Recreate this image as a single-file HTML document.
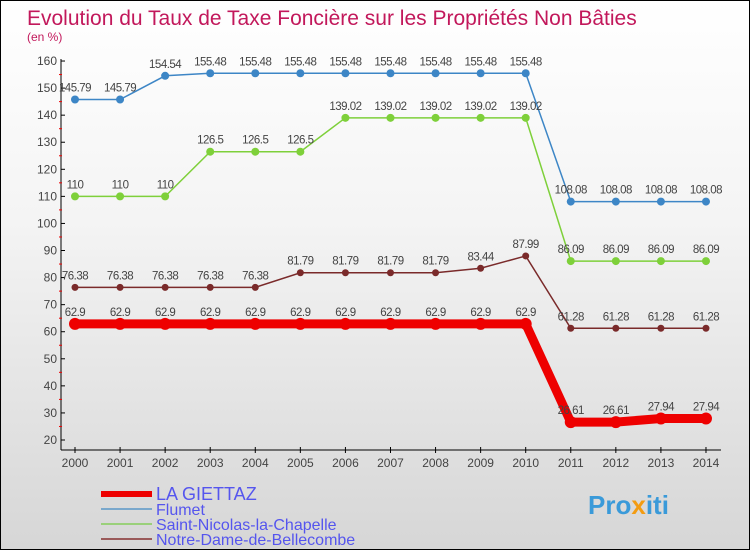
<!DOCTYPE html>
<html><head><meta charset="utf-8"><style>
body{margin:0}
#wrap{width:748px;height:548px;border:1px solid #000;position:relative;background:linear-gradient(#fff 0%,#f4f4f4 40%,#d6d6d6 100%);font-family:"Liberation Sans",sans-serif;overflow:hidden}
</style></head><body>
<div id="wrap">
<svg id="svg" width="748" height="548" xmlns="http://www.w3.org/2000/svg">
<text x="26" y="24" font-size="21" fill="#c2185b">Evolution du Taux de Taxe Foncière sur les Propriétés Non Bâties</text>
<text x="26" y="40" font-size="12" fill="#c2185b">(en %)</text>
<text x="587" y="513" font-size="26" font-weight="bold" fill="#3a9ad9">Pro<tspan fill="#f39c12">x</tspan>iti</text>
</svg>
</div>
<script>
const years=[2000,2001,2002,2003,2004,2005,2006,2007,2008,2009,2010,2011,2012,2013,2014];
const yTicks=[20,30,40,50,60,70,80,90,100,110,120,130,140,150,160];
const giettaz=[62.9,62.9,62.9,62.9,62.9,62.9,62.9,62.9,62.9,62.9,62.9,26.61,26.61,27.94,27.94];
const flumet=[145.79,145.79,154.54,155.48,155.48,155.48,155.48,155.48,155.48,155.48,155.48,108.08,108.08,108.08,108.08];
const stnicolas=[110,110,110,126.5,126.5,126.5,139.02,139.02,139.02,139.02,139.02,86.09,86.09,86.09,86.09];
const notredame=[76.38,76.38,76.38,76.38,76.38,81.79,81.79,81.79,81.79,83.44,87.99,61.28,61.28,61.28,61.28];
const svg=document.getElementById('svg');const NS='http://www.w3.org/2000/svg';
const X=i=>74+i*45.07;const Y=v=>439-(v-20)*2.707;
function mk(t,a,txt){const e=document.createElementNS(NS,t);for(const k in a)e.setAttribute(k,a[k]);if(txt!==undefined)e.textContent=txt;svg.appendChild(e);return e;}
let e=mk('line',{x1:60,y1:58,x2:60,y2:449,stroke:'#000'});


e=mk('line',{x1:60,y1:449,x2:720,y2:449,stroke:'#000'});


yTicks.forEach(v=>{
 mk('line',{x1:60,y1:Y(v),x2:64,y2:Y(v),stroke:'#000'});
 if(v<160)mk('line',{x1:58,y1:Y(v+5),x2:61,y2:Y(v+5),stroke:'#e00'});
 e=mk('text',{x:56,y:Y(v)+4,'font-size':12,fill:'#444','text-anchor':'end'},v);
 
 
});
years.forEach((y,i)=>{
 mk('line',{x1:X(i),y1:446,x2:X(i),y2:452,stroke:'#000'});
 e=mk('text',{x:X(i),y:466,'font-size':12,fill:'#444','text-anchor':'middle'},y);
 
 
});
function series(d,col,w,r,name){
 e=mk('polyline',{points:d.map((v,i)=>X(i)+','+Y(v)).join(' '),fill:'none',stroke:col,'stroke-width':w});
 
 
 d.forEach((v,i)=>{
  e=mk('circle',{cx:X(i),cy:Y(v),r:r,fill:col});
  
  
  e=mk('text',{x:X(i),y:Y(v)-8,'font-size':11.5,fill:'#444','text-anchor':'middle','letter-spacing':'-0.5'},v);
  
  
 });
}
series(flumet,'#3d86c6',1.5,4,'flumet');
series(stnicolas,'#7ed03a',1.5,4,'saint-nicolas');
series(notredame,'#7a2a2a',1.5,3.5,'notre-dame');
series(giettaz,'#ee0000',9,6,'la-giettaz');
const leg=[['LA GIETTAZ','#ee0000',6,18],['Flumet','#7aa8cc',2,16],['Saint-Nicolas-la-Chapelle','#9ad07a',2,16],['Notre-Dame-de-Bellecombe','#9a5a5a',2,16]];
const ly=[493,508,523,538];
leg.forEach((l,i)=>{
 e=mk('line',{x1:100,y1:ly[i],x2:151,y2:ly[i],stroke:l[1],'stroke-width':l[2]});
 
 
 e=mk('text',{x:155,y:ly[i]+6,'font-size':l[3],fill:'#5555ee'},l[0]);
 
 
});
</script>
</body></html>
